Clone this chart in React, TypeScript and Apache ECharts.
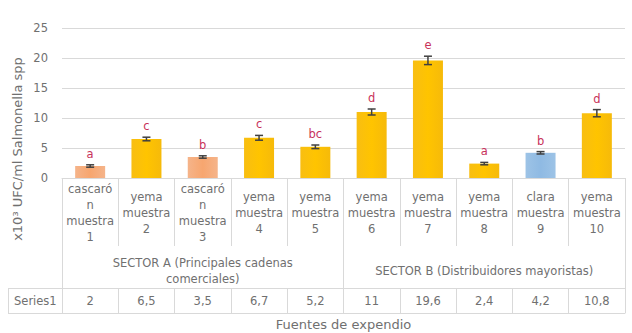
import { useEffect, useRef } from "react";
import * as echarts from "echarts";

// Recuento de Salmonella spp por fuente de expendio
const categories = [
  "cascaró\nn\nmuestra\n1",
  "yema\nmuestra\n2",
  "cascaró\nn\nmuestra\n3",
  "yema\nmuestra\n4",
  "yema\nmuestra\n5",
  "yema\nmuestra\n6",
  "yema\nmuestra\n7",
  "yema\nmuestra\n8",
  "clara\nmuestra\n9",
  "yema\nmuestra\n10",
];
const sampleParts = ["cascarón", "yema", "cascarón", "yema", "yema", "yema", "yema", "yema", "clara", "yema"];
const sectors = ["SECTOR A (Principales cadenas\ncomerciales)", "SECTOR B (Distribuidores mayoristas)"];
const values = [2, 6.5, 3.5, 6.7, 5.2, 11, 19.6, 2.4, 4.2, 10.8];
const errors = [0.2, 0.3, 0.2, 0.4, 0.3, 0.5, 0.7, 0.2, 0.2, 0.6];
const letters = ["a", "c", "b", "c", "bc", "d", "e", "a", "b", "d"];
const seriesName = "Series1";
const yAxisTitle = "x10³ UFC/ml Salmonella spp";
const xAxisTitle = "Fuentes de expendio";

const FONT = "'DejaVu Sans', 'Noto Sans', sans-serif";
const TEXT = "#707070";
const LINE = "#D9D9D9";
const LABEL_SIZE = 11.5;
const TITLE_SIZE = 13;

const partColors: Record<string, echarts.graphic.LinearGradient> = {
  "cascarón": new echarts.graphic.LinearGradient(0, 0, 1, 0, [
    { offset: 0, color: "#F5B48A" },
    { offset: 0.5, color: "#F7A66F" },
    { offset: 1, color: "#F5B48A" },
  ]),
  yema: new echarts.graphic.LinearGradient(0, 0, 1, 0, [
    { offset: 0, color: "#F8BE12" },
    { offset: 0.5, color: "#FFC400" },
    { offset: 1, color: "#F6BA0A" },
  ]),
  clara: new echarts.graphic.LinearGradient(0, 0, 1, 0, [
    { offset: 0, color: "#9DC3E6" },
    { offset: 0.5, color: "#8FBAE3" },
    { offset: 1, color: "#9DC3E6" },
  ]),
};

const fmt = (v: number) => String(v).replace(".", ",");

export default function App() {
  const ref = useRef<HTMLDivElement>(null);

  useEffect(() => {
    document.body.style.margin = "0";
    const chart = echarts.init(ref.current!, null, { renderer: "svg" });

    const gridLeft = 62;
    const rowTop = 288;
    const rowBottom = 313;

    const label = { color: TEXT, fontSize: LABEL_SIZE, fontFamily: FONT };

    chart.setOption({
      animation: false,
      textStyle: { fontFamily: FONT },
      grid: { left: gridLeft, right: 7, top: 28, bottom: 155 },
      yAxis: {
        type: "value",
        min: 0,
        max: 25,
        interval: 5,
        axisLine: { show: false },
        axisTick: { show: false },
        axisLabel: { ...label, margin: 14 },
        splitLine: { lineStyle: { color: LINE, width: 1 } },
      },
      xAxis: [
        {
          type: "category",
          data: categories,
          position: "bottom",
          axisLine: { lineStyle: { color: LINE } },
          axisTick: { show: true, length: 68, interval: 0, lineStyle: { color: LINE } },
          axisLabel: { ...label, interval: 0, lineHeight: 16, verticalAlign: "middle", margin: 35 },
        },
        {
          type: "category",
          data: sectors,
          position: "bottom",
          offset: 68,
          axisLine: { show: false },
          axisTick: { show: true, length: 42, interval: 0, lineStyle: { color: LINE } },
          axisLabel: { ...label, interval: 0, lineHeight: 16, verticalAlign: "middle", margin: 25 },
        },
        {
          type: "category",
          data: values.map(fmt),
          position: "bottom",
          offset: rowTop - 178,
          axisLine: { show: true, lineStyle: { color: LINE } },
          axisTick: { show: true, length: rowBottom - rowTop, interval: 0, lineStyle: { color: LINE } },
          axisLabel: { ...label, interval: 0, verticalAlign: "middle", margin: 13 },
        },
        {
          type: "category",
          data: categories,
          position: "bottom",
          offset: rowBottom - 178,
          axisLine: { show: true, lineStyle: { color: LINE } },
          axisTick: { show: false },
          axisLabel: { show: false },
          name: xAxisTitle,
          nameLocation: "middle",
          nameGap: 11,
          nameTextStyle: { color: TEXT, fontSize: TITLE_SIZE, fontFamily: FONT, verticalAlign: "middle" },
        },
      ],
      series: [
        {
          name: seriesName,
          type: "bar",
          xAxisIndex: 0,
          barWidth: 30,
          data: values.map((v, i) => ({
            value: v,
            itemStyle: { color: partColors[sampleParts[i]] },
          })),
        },
        {
          type: "custom",
          xAxisIndex: 0,
          yAxisIndex: 0,
          z: 5,
          encode: { x: 0, y: 1 },
          data: values.map((v, i) => [i, v, errors[i]]),
          renderItem: (params: any, api: any) => {
            const i = api.value(0);
            const v = api.value(1);
            const e = api.value(2);
            const hi = api.coord([i, v + e]);
            const lo = api.coord([i, v - e]);
            const cap = 4;
            const stroke = { stroke: "#404040", lineWidth: 1.5 };
            return {
              type: "group",
              children: [
                { type: "line", shape: { x1: hi[0], y1: hi[1], x2: lo[0], y2: lo[1] }, style: stroke },
                { type: "line", shape: { x1: hi[0] - cap, y1: hi[1], x2: hi[0] + cap, y2: hi[1] }, style: stroke },
                { type: "line", shape: { x1: lo[0] - cap, y1: lo[1], x2: lo[0] + cap, y2: lo[1] }, style: stroke },
                {
                  type: "text",
                  style: {
                    text: letters[params.dataIndex],
                    x: hi[0],
                    y: hi[1] - 11,
                    align: "center",
                    verticalAlign: "middle",
                    fill: "#C8325A",
                    fontSize: LABEL_SIZE,
                    fontFamily: FONT,
                  },
                },
              ],
            };
          },
        },
      ],
      graphic: [
        {
          type: "text",
          x: 17,
          y: 149,
          rotation: Math.PI / 2,
          style: {
            text: yAxisTitle,
            align: "center",
            verticalAlign: "middle",
            fill: TEXT,
            fontSize: TITLE_SIZE,
            fontFamily: FONT,
          },
        },
        {
          type: "text",
          x: 14,
          y: (rowTop + rowBottom) / 2,
          style: {
            text: seriesName,
            align: "left",
            verticalAlign: "middle",
            fill: TEXT,
            fontSize: LABEL_SIZE,
            fontFamily: FONT,
          },
        },
        { type: "line", shape: { x1: 8, y1: rowTop + 0.5, x2: gridLeft, y2: rowTop + 0.5 }, style: { stroke: LINE } },
        { type: "line", shape: { x1: 8, y1: rowBottom + 0.5, x2: gridLeft, y2: rowBottom + 0.5 }, style: { stroke: LINE } },
        { type: "line", shape: { x1: 8.5, y1: rowTop, x2: 8.5, y2: rowBottom }, style: { stroke: LINE } },
      ],
    });

    return () => chart.dispose();
  }, []);

  return <div ref={ref} style={{ width: 632, height: 333 }} />;
}
